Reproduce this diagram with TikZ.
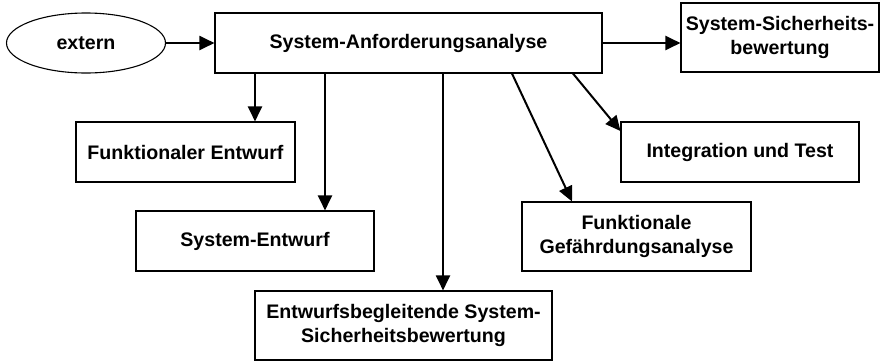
\documentclass[tikz,border=0pt]{standalone}
\usepackage{fontspec}
\setmainfont{Liberation Sans}
\usetikzlibrary{arrows.meta,shapes.geometric}
\begin{document}
\begin{tikzpicture}[x=1bp,y=-1bp,
  every node/.style={font=\bfseries\fontsize{19.6bp}{23.5bp}\selectfont,align=center,inner sep=0pt},
  box/.style={draw,line width=1.1bp,rectangle},
  oval/.style={draw,line width=1.1bp,ellipse},
  arr/.style={line width=2bp,-{Triangle[length=15bp,width=14bp]}}]
\useasboundingbox (0,0) rectangle (882,361);
% nodes
\node[oval,minimum width=159bp,minimum height=60bp] (ext) at (86,43) {extern};
\node[box,minimum width=387bp,minimum height=60bp] (req) at (408.5,43) {System-Anforderungsanalyse};
\node[box,minimum width=198bp,minimum height=69bp] (ssb) at (780,37.5) {System-Sicherheits-\\bewertung};
\node[box,minimum width=219bp,minimum height=60bp] (fe) at (185.5,152) {Funktionaler Entwurf};
\node[box,minimum width=238bp,minimum height=60bp] (se) at (255,241) {System-Entwurf};
\node[box,minimum width=297bp,minimum height=69bp] (ebs) at (403.5,325.5) {Entwurfsbegleitende System-\\Sicherheitsbewertung};
\node[box,minimum width=229bp,minimum height=69bp] (fga) at (636.5,236.5) {Funktionale\\Gefährdungsanalyse};
\node[box,minimum width=238bp,minimum height=60bp] (it) at (740,152) {Integration und Test};
% attachment columns
\coordinate (cfe) at (255,0);
\coordinate (cse) at (325,0);
\coordinate (cebs) at (443,0);
\coordinate (cfga1) at (512,0);
\coordinate (cfga2) at (572,0);
\coordinate (cit) at (573,0);
\coordinate (tit) at (0,131);
% connectors
\draw[arr] (ext.east) -- (req.west);
\draw[arr] (req.east) -- (req.east -| ssb.west);
\draw[arr] (req.south -| cfe) -- (fe.north -| cfe);
\draw[arr] (req.south -| cse) -- (se.north -| cse);
\draw[arr] (req.south -| cebs) -- (ebs.north -| cebs);
\draw[arr] (req.south -| cfga1) -- (fga.north -| cfga2);
\draw[arr] (req.south -| cit) -- (it.west |- tit);
\end{tikzpicture}
\end{document}
